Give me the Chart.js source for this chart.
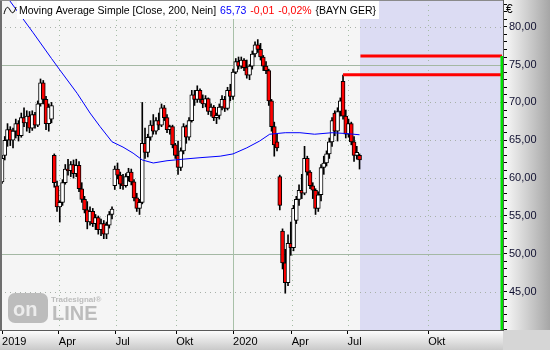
<!DOCTYPE html>
<html lang="de">
<head>
  <meta charset="UTF-8" />
  <title>BAYN GER – Moving Average Simple</title>
  <script src="https://cdn.jsdelivr.net/npm/chart.js"></script>
  <style>
    body { margin: 0; background: #f5f5f5; }
    #wrap { width: 550px; height: 350px; }
  </style>
</head>
<body>
  <div id="wrap"><canvas id="chart" width="550" height="350"></canvas></div>

  <script>
    // Kerzen: eine Kerze je 3 Handelstage, Index 0 = Anfang Januar 2019
    const dayStep = 3;
    const opens  = [59.5,63.0,65.0,66.4,65.0,66.2,67.2,65.6,68.0,67.3,68.2,66.6,68.4,67.0,69.8,72.6,70.4,67.2,67.8,63.0,
                    59.0,56.2,56.8,59.4,61.2,61.0,61.8,60.6,61.7,58.6,57.2,55.8,54.2,55.6,54.0,54.8,53.2,54.0,52.6,53.8,
                    55.2,59.0,61.2,60.4,59.2,59.0,60.2,60.8,59.5,57.4,56.0,56.8,64.6,63.4,65.4,67.0,66.2,67.6,67.0,69.3,
                    68.0,66.4,66.8,64.4,63.0,61.4,63.6,66.8,65.4,67.6,71.0,70.4,71.6,70.4,69.8,70.5,68.8,69.4,68.0,68.3,
                    69.4,70.4,69.2,71.6,70.8,74.0,75.4,74.8,75.6,74.6,73.6,74.8,76.4,77.6,77.0,76.0,74.8,74.2,70.2,66.8,
                    64.8,60.2,53.0,48.8,46.2,51.4,50.8,54.4,57.2,58.4,58.0,62.6,60.8,59.0,58.4,56.0,57.8,61.4,62.0,63.2,
                    64.8,68.6,66.2,68.8,72.8,68.2,65.8,67.2,64.8,63.0,63.0];
    const highs  = [63.0,65.5,67.2,66.8,66.6,67.8,67.6,68.6,69.3,68.9,68.8,68.9,68.7,70.2,73.1,72.9,70.8,69.8,70.0,63.2,
                    59.6,57.0,59.8,61.8,62.5,62.2,62.4,62.5,62.2,59.4,57.6,56.9,56.2,56.0,55.2,55.0,54.6,54.4,54.2,55.6,
                    56.2,61.6,62.0,60.8,60.5,60.6,61.3,61.2,59.8,58.0,57.2,70.0,66.6,65.8,67.6,68.4,68.0,68.6,69.8,69.6,
                    68.4,67.0,67.0,64.6,64.9,64.0,67.2,67.0,68.0,71.6,71.6,72.2,71.8,71.0,70.9,70.6,69.8,69.6,68.6,69.8,
                    70.9,70.8,72.0,72.4,74.4,75.8,76.0,76.0,75.8,75.6,75.0,76.8,78.0,78.3,77.8,76.2,75.4,74.4,70.4,67.4,
                    65.8,60.4,53.3,50.6,52.5,54.2,56.4,57.6,59.1,60.5,64.2,62.9,61.0,59.4,58.6,58.2,61.8,62.9,63.6,65.3,
                    68.0,68.9,69.3,70.6,73.6,69.0,67.8,67.4,65.5,64.2,63.2];
    const lows   = [59.3,62.4,64.2,64.3,64.0,65.3,64.9,65.4,66.8,66.2,66.0,66.3,66.6,66.8,69.5,69.8,66.4,66.2,67.3,58.8,
                    55.6,54.2,56.4,59.2,60.4,60.2,60.0,60.2,58.2,56.8,55.4,53.3,53.8,53.6,53.2,52.6,52.4,52.0,52.0,53.4,
                    54.6,58.5,59.9,58.6,58.5,58.8,59.6,59.1,57.0,55.6,55.2,56.6,62.6,62.8,65.0,65.8,65.8,66.4,66.8,67.6,
                    66.0,65.8,64.0,62.6,60.5,61.0,63.2,64.6,65.0,67.4,69.6,70.0,70.0,69.3,69.4,68.4,68.2,67.6,67.2,67.8,
                    69.0,68.8,69.0,70.2,70.4,73.8,74.4,74.5,74.2,73.2,73.0,74.4,76.0,76.6,75.6,74.2,73.8,69.6,66.2,62.9,
                    63.6,55.8,48.0,44.8,45.8,49.8,50.4,54.0,56.4,57.3,57.8,60.4,58.6,57.3,55.2,55.6,57.0,60.5,61.6,62.6,
                    64.2,65.6,64.9,68.2,67.8,65.3,65.4,64.4,62.2,62.5,61.2];
    const closes = [62.6,65.0,66.4,65.0,66.2,67.2,65.6,68.0,67.3,68.2,66.6,68.4,67.0,69.8,72.6,70.4,67.2,69.4,69.6,59.4,
                    56.2,56.8,59.4,61.2,61.0,61.8,60.6,61.7,58.6,57.2,55.8,54.2,55.6,54.0,54.8,53.2,54.0,52.6,53.8,55.2,
                    55.9,61.2,60.4,59.2,59.0,60.2,60.8,59.5,57.4,56.0,56.8,64.6,63.4,65.4,67.0,66.2,67.6,67.0,69.3,68.0,
                    66.4,66.8,64.4,63.0,61.4,63.6,66.8,65.4,67.6,71.0,70.4,71.6,70.4,69.8,70.5,68.8,69.4,68.0,68.3,69.4,
                    70.4,69.2,71.6,70.8,74.0,75.4,74.8,75.6,74.6,73.6,74.8,76.4,77.6,77.0,76.0,74.8,74.2,70.2,66.8,64.4,
                    64.0,56.4,48.8,46.2,51.4,50.8,56.0,57.2,58.4,58.0,62.6,60.8,59.0,58.4,56.0,57.8,61.4,62.0,63.2,64.8,
                    67.6,66.2,68.8,70.2,68.2,65.8,67.2,64.8,63.0,63.4,62.4];

    // Gleitender Durchschnitt (200 Tage)
    const maX = [-2, 8, 34, 54, 63, 82, 96, 107, 120, 132, 143, 153, 165, 180, 197, 216, 238, 252, 267, 281, 292, 309, 325, 341, 360, 374, 390];
    const maY = [85.2, 83.5, 79.2, 75.8, 74.3, 71.2, 68.6, 66.8, 64.8, 64.1, 63.3, 62.4, 62.0, 62.3, 62.5, 62.7, 62.9, 63.2, 64.0, 64.9, 65.8, 66.0, 66.0, 65.8, 66.0, 65.9, 65.73];

    // Achsen
    const xTickPos    = [0, 62, 124, 190, 252, 316, 377, 465];
    const xTickLabels = ['2019', 'Apr', 'Jul', 'Okt', '2020', 'Apr', 'Jul', 'Okt'];
    const yMajorTicks = [45, 50, 55, 60, 65, 70, 75, 80];
    const ySolidLines = [50, 75];
    const xSolidLines = [252];

    // Markierungen
    const futureStart = 391;
    const endX = 545.4;
    const redLevels = [76.13, 73.66];
    const redStarts = [391, 372];

    // Legende
    const maTitle = 'Moving Average Simple [Close, 200, Nein]';
    const maValue = '65,73';
    const maChange = '-0,01';
    const maChangePct = '-0,02%';
    const symbol = '{BAYN GER}';

    const fontFamily = '"Liberation Sans", Arial, sans-serif';
    const yMin = 39.94, yMax = 83.53;

    const bodies = closes.map((c, i) => ({ x: i * dayStep, y: [Math.min(opens[i], c), Math.max(opens[i], c)] }));
    const wicks  = closes.map((c, i) => ({ x: i * dayStep, y: [lows[i], highs[i]] }));

    const framePlugin = {
      id: 'frame',
      beforeDraw(chart) {
        const { ctx, chartArea: a, scales: { x, y } } = chart;
        ctx.save();
        ctx.fillStyle = '#f5f5f5';
        ctx.fillRect(a.left, a.top, a.right - a.left, a.bottom - a.top);

        let g = ctx.createLinearGradient(a.right, 0, chart.width, 0);
        g.addColorStop(0, '#fbfbfb');
        g.addColorStop(1, '#a6a6a6');
        ctx.fillStyle = g;
        ctx.fillRect(a.right, 0, chart.width - a.right, a.bottom);

        g = ctx.createLinearGradient(0, a.bottom, 0, chart.height);
        g.addColorStop(0, '#ffffff');
        g.addColorStop(1, '#c9c9c9');
        ctx.fillStyle = g;
        ctx.fillRect(0, a.bottom, a.right, chart.height - a.bottom);
        ctx.fillStyle = '#d6d6d6';
        ctx.fillRect(a.right, a.bottom, chart.width - a.right, chart.height - a.bottom);

        // Zukunftsbereich
        const sx = Math.round(x.getPixelForValue(futureStart));
        ctx.fillStyle = '#dcdcf3';
        ctx.fillRect(sx, a.top, a.right - sx, a.bottom - a.top);

        // Gitter
        ctx.lineWidth = 1;
        for (let v = 40; v <= 80; v += 5) {
          const py = Math.round(y.getPixelForValue(v)) + 0.5;
          const solid = ySolidLines.includes(v);
          ctx.setLineDash(solid ? [] : [1, 4]);
          ctx.strokeStyle = solid ? '#a4b8a4' : '#a8b0a8';
          ctx.beginPath(); ctx.moveTo(a.left, py); ctx.lineTo(a.right, py); ctx.stroke();
        }
        xTickPos.forEach(v => {
          if (v === 0) return;
          const px = Math.round(x.getPixelForValue(v)) + 0.5;
          const solid = xSolidLines.includes(v);
          ctx.setLineDash(solid ? [] : [1, 4]);
          ctx.strokeStyle = solid ? '#a8c0a8' : '#a4bca4';
          ctx.beginPath(); ctx.moveTo(px, a.top); ctx.lineTo(px, a.bottom); ctx.stroke();
        });
        ctx.setLineDash([]);

        // Tradesignal-Logo
        ctx.fillStyle = '#bcbcbc';
        ctx.beginPath();
        ctx.roundRect(8, 293, 40, 30, 7);
        ctx.fill();
        ctx.font = 'bold 20px ' + fontFamily;
        ctx.textBaseline = 'alphabetic';
        ctx.fillStyle = '#ececec';
        ctx.fillText('on', 13, 316);
        ctx.fillStyle = '#bcbcbc';
        ctx.fillText('LINE', 52, 320);
        ctx.font = 'bold 8px ' + fontFamily;
        ctx.fillText('Tradesignal®', 51, 302);
        ctx.restore();
      },
      afterDraw(chart) {
        const { ctx, chartArea: a } = chart;
        ctx.save();
        // Rahmen
        ctx.strokeStyle = '#6e6e6e';
        ctx.lineWidth = 2;
        ctx.beginPath(); ctx.moveTo(1, 0); ctx.lineTo(1, a.bottom); ctx.stroke();
        ctx.lineWidth = 1;
        ctx.strokeStyle = '#8a8a8a';
        ctx.beginPath(); ctx.moveTo(0, 0.5); ctx.lineTo(a.right, 0.5); ctx.stroke();

        // Legende
        ctx.font = '10.5px ' + fontFamily;
        ctx.textBaseline = 'middle';
        const parts = [[maTitle, '#000000'], [maValue, '#0000ff'], [maChange, '#ff0000'], [maChangePct, '#ff0000'], [symbol, '#000000']];
        const gap = 4;
        let w = 0;
        parts.forEach(p => { w += ctx.measureText(p[0]).width + gap; });
        ctx.fillStyle = '#ffffff';
        ctx.fillRect(17, 1, w + 1, 18);
        let tx = 19;
        parts.forEach(p => {
          ctx.fillStyle = p[1];
          ctx.fillText(p[0], tx, 11);
          tx += ctx.measureText(p[0]).width + gap;
        });
        // Symbol-Welle
        ctx.strokeStyle = '#000';
        ctx.lineWidth = 1;
        ctx.beginPath();
        ctx.moveTo(4, 14);
        ctx.bezierCurveTo(6, 6, 8, 6, 10, 10);
        ctx.bezierCurveTo(12, 14, 14, 14, 16, 7);
        ctx.stroke();

        ctx.fillStyle = '#000';
        ctx.font = '12px ' + fontFamily;
        ctx.fillText('€', a.right + 3, 10);
        ctx.restore();
      }
    };

    new Chart(document.getElementById('chart'), {
      type: 'bar',
      data: {
        datasets: [
          {
            type: 'line', data: [{ x: endX, y: redLevels[0] }, { x: endX, y: yMin }],
            borderColor: '#00e000', borderWidth: 3, pointRadius: 0
          },
          {
            type: 'line', data: [{ x: redStarts[0], y: redLevels[0] }, { x: endX, y: redLevels[0] }],
            borderColor: '#ff0000', borderWidth: 3, pointRadius: 0
          },
          {
            type: 'line', data: [{ x: redStarts[1], y: redLevels[1] }, { x: endX, y: redLevels[1] }],
            borderColor: '#ff0000', borderWidth: 3, pointRadius: 0
          },
          {
            type: 'line', data: maX.map((v, i) => ({ x: v, y: maY[i] })),
            borderColor: '#0000ff', borderWidth: 1, pointRadius: 0, tension: 0
          },
          {
            data: bodies, grouped: false, barThickness: 4, borderWidth: 1, borderSkipped: false,
            borderColor: '#000000',
            backgroundColor: c => closes[c.dataIndex] < opens[c.dataIndex] ? '#ff0000' : '#ffffff'
          },
          {
            data: wicks, grouped: false, barThickness: 1, borderWidth: 0, backgroundColor: '#000000'
          }
        ]
      },
      options: {
        responsive: false,
        devicePixelRatio: 1,
        animation: false,
        events: [],
        layout: { padding: 0 },
        plugins: { legend: { display: false }, tooltip: { enabled: false } },
        scales: {
          x: {
            type: 'linear', min: -2.2, max: 546.5, offset: false,
            afterBuildTicks: s => { s.ticks = xTickPos.map(v => ({ value: v })); },
            afterFit: s => { s.height = 20; s.paddingLeft = 0; s.paddingRight = 0; },
            grid: { drawOnChartArea: false, offset: false, tickLength: 4, tickColor: '#000', color: '#000' },
            border: { display: true, color: '#5a5a5a' },
            ticks: {
              autoSkip: false, maxRotation: 0, align: 'start', padding: 1, color: '#000',
              font: { family: fontFamily, size: 11 },
              callback: (v, i) => xTickLabels[i]
            }
          },
          y: {
            position: 'right', min: yMin, max: yMax,
            afterBuildTicks: s => {
              const t = [];
              for (let v = Math.ceil(yMin); v <= yMax; v++) t.push({ value: v });
              s.ticks = t;
            },
            afterFit: s => { s.width = 47; s.paddingTop = 0; s.paddingBottom = 0; },
            grid: { drawOnChartArea: false, tickLength: 4, tickColor: '#000', color: '#000' },
            border: { display: true, color: '#5a5a5a' },
            ticks: {
              autoSkip: false, padding: 2, color: '#101030',
              font: { family: fontFamily, size: 11 },
              callback: v => yMajorTicks.includes(v) ? v.toFixed(2).replace('.', ',') : ''
            }
          }
        }
      },
      plugins: [framePlugin]
    });
  </script>
</body>
</html>
